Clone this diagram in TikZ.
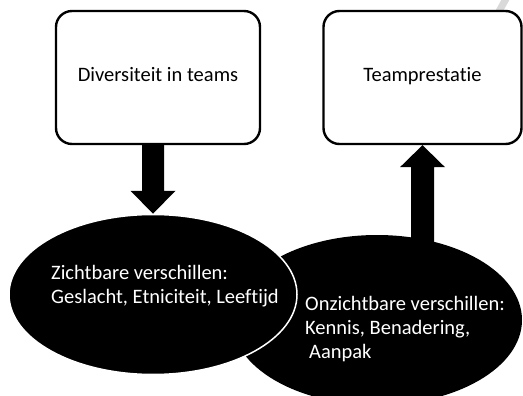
\documentclass[tikz,border=0pt]{standalone}
\usepackage{fontspec}
\setmainfont{Carlito}[Ligatures=NoCommon]
\usetikzlibrary{shapes.geometric,calc}
\begin{document}
\begin{tikzpicture}[x=1pt,y=-1pt,
  box/.style={draw=black,line width=2.4pt,rounded corners=16pt,fill=white,minimum height=133pt,inner sep=0pt},
  oval/.style={ellipse,fill=black,inner sep=0pt},
  lbl/.style={font=\fontsize{20.5}{24}\selectfont,inner sep=0pt},
  wlbl/.style={lbl,text=white,align=left,anchor=base west},
  bigarrow/.style={fill=black}]
\useasboundingbox (0,0) rectangle (523,396);
% faint watermark fragment
\draw[gray!30,line width=7pt] (507,-3) -- (497,15);
% boxes
\node[box,minimum width=204pt] (box1) at (158,77.5) {};
\node[box,minimum width=198pt] (box2) at (422.5,77.5) {};
\node[lbl,anchor=base] (t1) at ([yshift=-4.5pt]box1.center) {Diversiteit in teams};
\node[lbl,anchor=base] (t2) at ([yshift=-4.5pt]box2.center) {Teamprestatie};
% ellipses
\node[oval,minimum width=290pt,minimum height=170pt] (ell2) at (377,320) {};
\node[oval,draw=white,line width=1.5pt,minimum width=288pt,minimum height=160pt] (ell1) at (153,294.5) {};
% arrows
\fill[bigarrow] let \p1=(ell1.north), \p2=(box1.south) in
  (\x1,\y1) -- (\x1-22.5,\y1+23) -- (\x1-11,\y1+23) -- (\x1-11,\y2) -- (\x1+11,\y2)
  -- (\x1+11,\y1+23) -- (\x1+22.5,\y1+23) -- cycle;
\fill[bigarrow] let \p1=(box2.south), \p2=(ell2.center) in
  (\x1,\y1) -- (\x1-22.5,\y1-22) -- (\x1-11.5,\y1-22) -- (\x1-11.5,\y2) -- (\x1+11.5,\y2)
  -- (\x1+11.5,\y1-22) -- (\x1+22.5,\y1-22) -- cycle;
% ellipse texts (base anchor = baseline of last line)
\node[wlbl] (z) at (51,303) {Zichtbare verschillen:\\Geslacht, Etniciteit, Leeftijd};
\node[wlbl] (o) at (305,358) {Onzichtbare verschillen:\\Kennis, Benadering,\\\hspace*{4pt}Aanpak};
\end{tikzpicture}
\end{document}
